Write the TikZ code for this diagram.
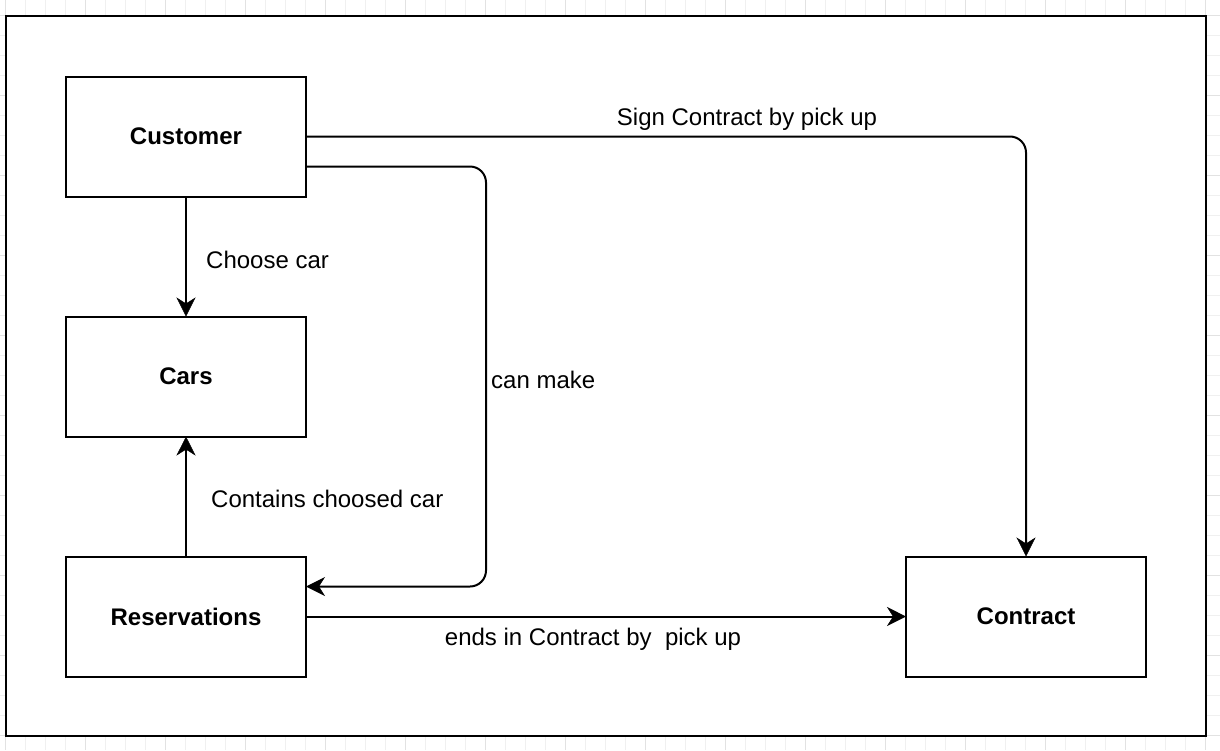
\documentclass[tikz,border=0pt]{standalone}
\usepackage{fontspec}
\setmainfont{Liberation Sans}
\usetikzlibrary{arrows.meta}
\definecolor{gridminor}{HTML}{F0F0F0}
\definecolor{gridmajor}{HTML}{E2E2E2}
\tikzset{
  box/.style={draw=black, line width=2pt, fill=white, minimum width=240pt, minimum height=120pt,
    inner sep=0pt, outer sep=0pt, font=\fontsize{24pt}{28pt}\selectfont\bfseries},
  arr/.style={draw=black, line width=2pt,
    -{Stealth[length=19pt,width=19pt,inset=6pt,line width=0.5pt]}},
  lbl/.style={inner sep=0pt, font=\fontsize{24pt}{28pt}\selectfont},
}
\begin{document}
\begin{tikzpicture}[x=1pt,y=-1pt]
\useasboundingbox (0,0) rectangle (1220,750);
\fill[white] (0,0) rectangle (1220,750);
% background grid
\foreach \x in {5,25,...,1220} \draw[gridminor, line width=1pt] (\x,0) -- (\x,750);
\foreach \y in {15,35,...,750} \draw[gridminor, line width=1pt] (0,\y) -- (1220,\y);
\foreach \x in {5,85,...,1220} \draw[gridmajor, line width=1pt] (\x,0) -- (\x,750);
\foreach \y in {15,95,...,750} \draw[gridmajor, line width=1pt] (0,\y) -- (1220,\y);
% outer frame
\draw[line width=2pt, fill=white] (6,16) rectangle (1206,736);
% boxes
\node[box] (cust) at (186,136.5) {Customer};
\node[box] (cars) at (186,376.5) {Cars};
\node[box] (res) at (186,616.5) {Reservations};
\node[box] (con) at (1026,616.5) {Contract};
% connectors
\draw[arr] (cust) -- (cars);
\draw[arr] (res) -- (cars);
\draw[arr] (res) -- (con);
\draw[arr] (cust.east) [rounded corners=16pt] -| (con.north);
\coordinate (bendtop) at (486,166.5);
\coordinate (bendbot) at (486,586.5);
\draw[arr] ([yshift=-30pt]cust.east) [rounded corners=16pt] -- (bendtop) -- (bendbot) [sharp corners] -- ([yshift=30pt]res.east);
% labels
\node[lbl, anchor=west] (l1) at (206,259.5) {Choose car};
\node[lbl] (l2) at (747,119.5) {Sign Contract by pick up};
\node[lbl, anchor=west] (l3) at (491,379.5) {can make};
\node[lbl, anchor=west] (l4) at (211,498.5) {Contains choosed car};
\node[lbl] (l5) at (593,639.5) {ends in Contract by\ \ pick up};
\end{tikzpicture}
\end{document}
